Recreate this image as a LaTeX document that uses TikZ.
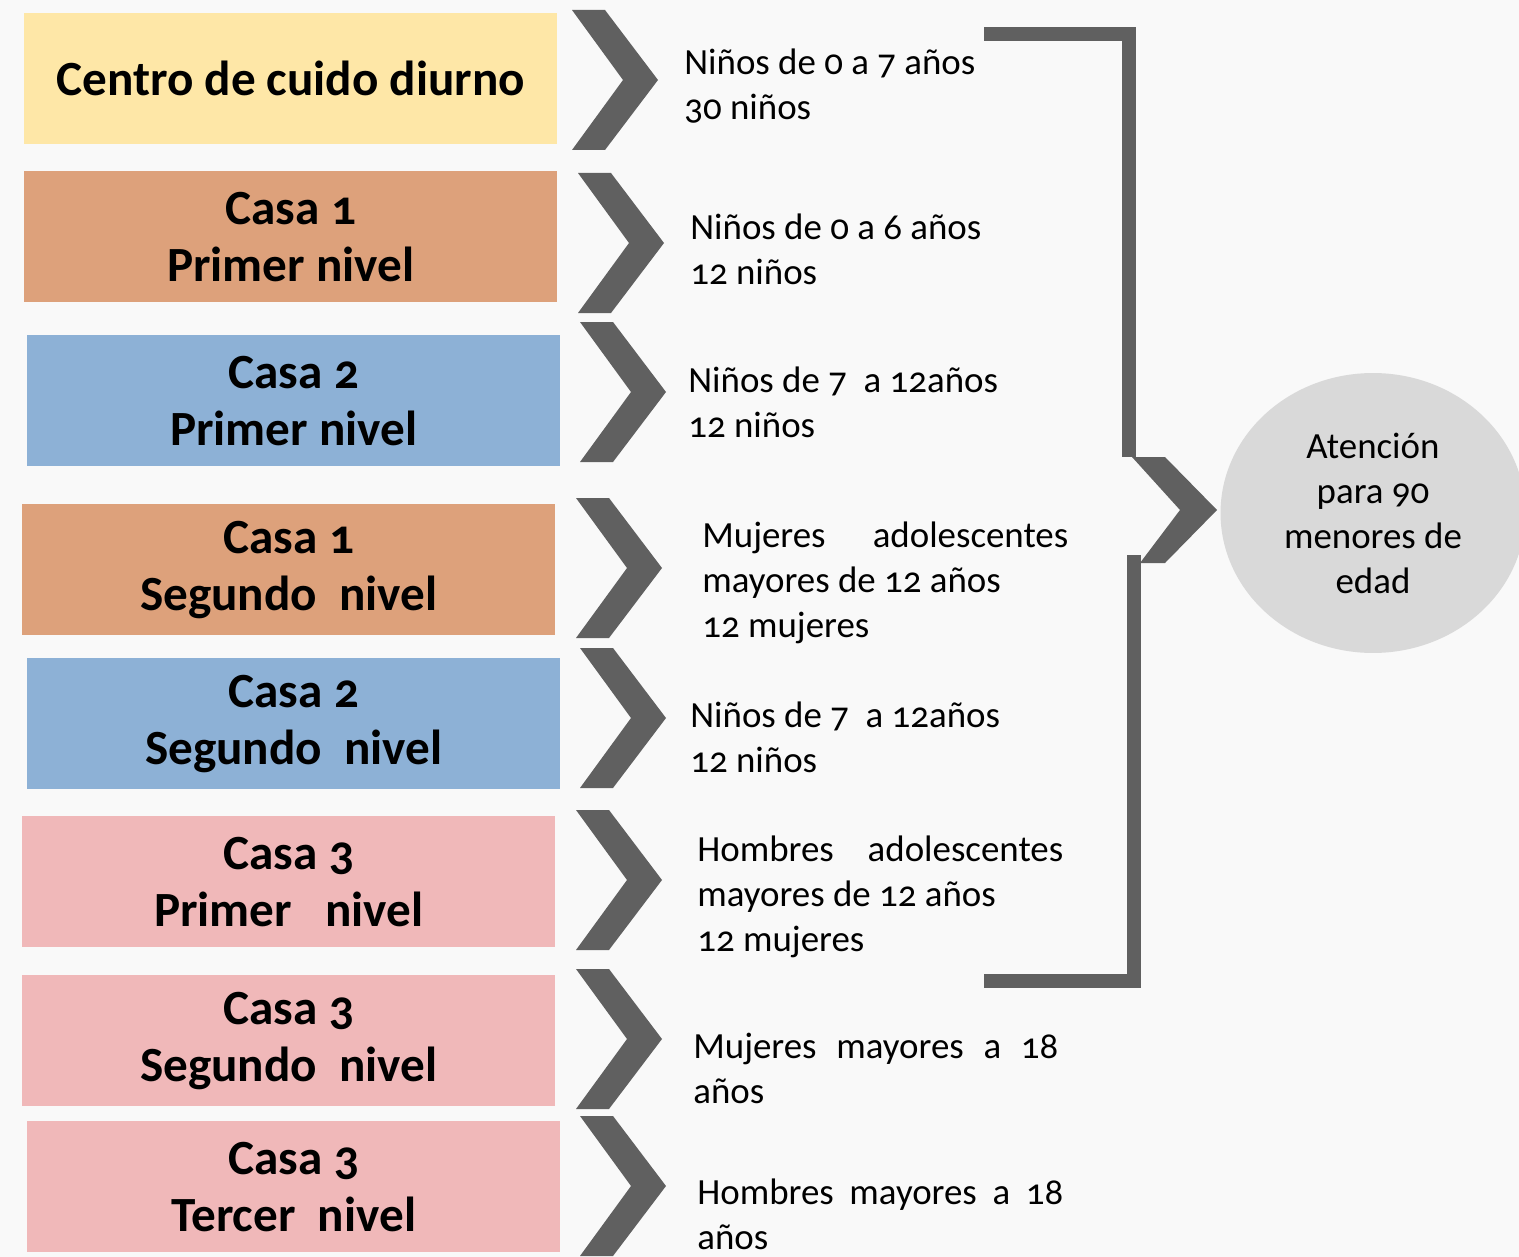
\documentclass[tikz,border=0pt]{standalone}
\usepackage{fontspec}
\setmainfont{Carlito}[Numbers=OldStyle]
\usetikzlibrary{shapes.geometric}

\definecolor{amarillo}{HTML}{FEE7A7}
\definecolor{naranja}{HTML}{DDA17B}
\definecolor{azul}{HTML}{8DB1D6}
\definecolor{rosa}{HTML}{F0B8B9}
\definecolor{gris}{HTML}{606060}
\definecolor{ovalo}{HTML}{D9D9D9}
\definecolor{fondo}{HTML}{F9F9F9}

\begin{document}
\begin{tikzpicture}[
	x=0.02cm, y=-0.02cm,
	casa/.style={
		anchor=north west, inner sep=0pt,
		minimum width=10.66cm, minimum height=2.62cm,
		align=center, font={\fontsize{28}{32.5}\selectfont\bfseries}
	},
	dato/.style={anchor=north west, inner sep=0pt, align=left,
		font={\fontsize{21}{25.6}\selectfont}},
	chev/.style={fill=gris},
	brk/.style={draw=gris, line width=0.27cm}
]

% Page: 1519 x 1257 px, 1 px = 0.02 cm
\clip (0,0) rectangle (1519,1257);
\fill[fondo] (0,0) rectangle (1519,1257);

% Left boxes (top left corner in px)
\node[casa, fill=amarillo] (cdi)  at (24,13)   {Centro de cuido diurno};
\node[casa, fill=naranja]  (c1p)  at (24,171)  {Casa 1\\Primer nivel};
\node[casa, fill=azul]     (c2p)  at (27,335)  {Casa 2\\Primer nivel};
\node[casa, fill=naranja]  (c1s)  at (22,504)  {Casa 1\\Segundo\ \ nivel};
\node[casa, fill=azul]     (c2s)  at (27,658)  {Casa 2\\Segundo\ \ nivel};
\node[casa, fill=rosa]     (c3p)  at (22,816)  {Casa 3\\Primer\ \ \ nivel};
\node[casa, fill=rosa]     (c3s)  at (22,975)  {Casa 3\\Segundo\ \ nivel};
\node[casa, fill=rosa]     (c3t)  at (27,1121) {Casa 3\\Tercer\ \ nivel};

% Chevrons, x = left edge, y = top
\foreach \x/\y in {572/10, 578/173, 580/322, 576/498, 580/648, 576/810, 576/969, 580/1116}
	\fill[chev] (\x,\y) -- ++(33,0) -- ++(53,70) -- ++(-53,70) -- ++(-33,0) -- ++(51,-70) -- cycle;

% Population texts
\node[dato] (t1) at (684,49)   {Niños de 0 a 7 años\\30 niños};
\node[dato] (t2) at (690,214)  {Niños de 0 a 6 años\\12 niños};
\node[dato] (t3) at (688,367)  {Niños de 7\ \ a 12años\\12 niños};
\node[dato] (t4) at (702,522)  {\hbox to 7.32cm{Mujeres\hfill adolescentes}\\mayores de 12 años\\ 12 mujeres};
\node[dato] (t5) at (690,702)  {Niños de 7\ \ a 12años\\12 niños};
\node[dato] (t6) at (697,836)  {\hbox to 7.32cm{Hombres\hfill adolescentes}\\mayores de 12 años\\12 mujeres};
\node[dato] (t7) at (693,1033) {\hbox to 7.3cm{Mujeres\hfill mayores\hfill a\hfill 18}\\años};
\node[dato] (t8) at (697,1179) {\hbox to 7.32cm{Hombres\hfill mayores\hfill a\hfill 18}\\años};

% Bracket and its point
\draw[brk] (984,34) -- (1129,34) -- (1129,457);
\draw[brk] (1134,555) -- (1134,981) -- (984,981);
\fill[chev] (1132,457) -- (1165,457) -- (1217,510) -- (1165,563) -- (1140,563) -- (1180,510) -- cycle;

% Total
\node[ellipse, fill=ovalo, minimum width=6.1cm, minimum height=5.6cm, align=center,
	font={\fontsize{21}{25.6}\selectfont}] (total) at (1373,513)
	{Atención\\para 90\\menores de\\edad};

\end{tikzpicture}
\end{document}
